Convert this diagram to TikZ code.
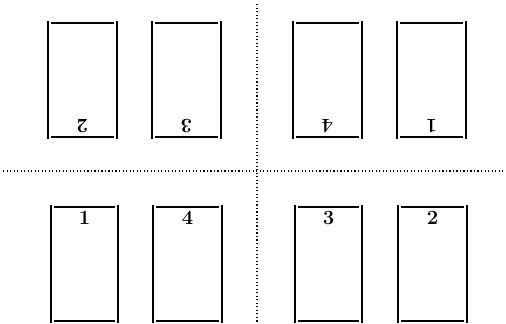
\documentclass[tikz,border=0pt]{standalone}
\begin{document}
\begin{tikzpicture}[x=0.03cm,y=-0.03cm,
  side/.style={line width=1.6pt},
  rim/.style={line width=1.4pt},
  cutline/.style={dotted,line width=1pt},
  cardno/.style={font=\bfseries\LARGE,inner sep=0pt}]
  \useasboundingbox (0,0) rectangle (506,323);
  % cut lines
  \draw[cutline] (257,4) -- (257,323);
  \draw[cutline] (3,171) -- (503,171);
  % top row, numbers upside down
  \foreach \xl/\xr/\num/\name in {48/117/2/a, 152/221/3/b, 293/362/4/c, 397/466/1/d} {
    \draw[side] (\xl,21) -- (\xl,139);
    \draw[side] (\xr,21) -- (\xr,139);
    \draw[rim] (\xl+3,23) -- (\xr-3,23);
    \draw[rim] (\xl+3,137) -- (\xr-3,137);
    \node[cardno,rotate=180] (top\name) at ({(\xl+\xr)/2},126) {\num};
  }
  % bottom row
  \foreach \xl/\xr/\num/\name in {51/118/1/a, 153/222/4/b, 295/362/3/c, 398/467/2/d} {
    \draw[side] (\xl,205) -- (\xl,323);
    \draw[side] (\xr,205) -- (\xr,323);
    \draw[rim] (\xl+3,207) -- (\xr-3,207);
    \draw[rim] (\xl+3,321) -- (\xr-3,321);
    \node[cardno] (bot\name) at ({(\xl+\xr)/2},218) {\num};
  }
\end{tikzpicture}
\end{document}
